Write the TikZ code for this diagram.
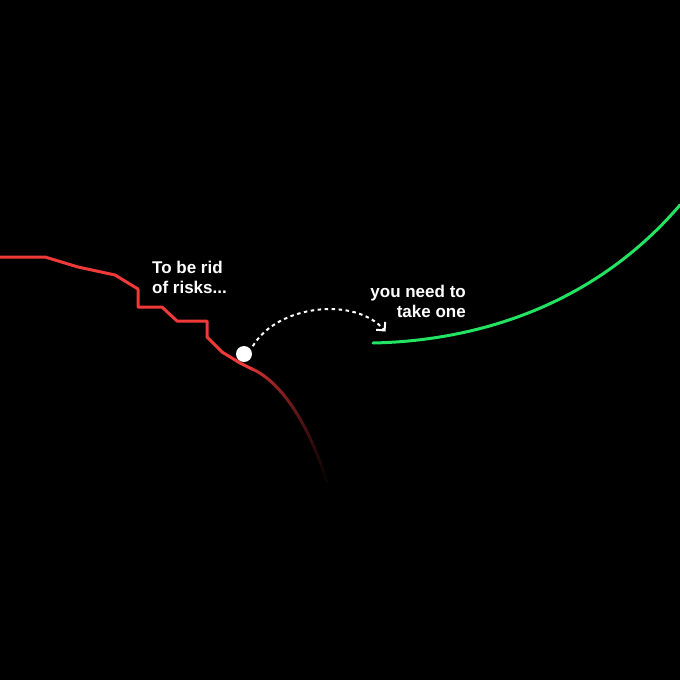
\documentclass[tikz,border=0pt]{standalone}
\usepackage{fontspec}
\setmainfont{Liberation Sans}
\usetikzlibrary{arrows.meta}
\definecolor{riskred}{HTML}{F03A3A}
\definecolor{gogreen}{HTML}{22E362}
\tikzset{
  label/.style={text=white, font=\fontsize{17}{20}\selectfont\bfseries, inner sep=0pt, align=#1},
  redline/.style={draw=riskred, line width=3pt, line join=round, line cap=round},
  greenline/.style={draw=gogreen, line width=3pt, line cap=round},
  jump/.style={draw=white, line width=2pt, dash pattern=on 3.5pt off 3.5pt,
    -{Straight Barb[length=6pt, width=12pt, line width=2pt]}},
}
\begin{document}
\begin{tikzpicture}[x=1pt, y=-1pt]
\fill[black] (0,0) rectangle (680,680);
\useasboundingbox (0,0) rectangle (680,680);

% red descending line
\coordinate (r0) at (0,257);
\coordinate (r1) at (45,257);
\coordinate (r2) at (78,267);
\coordinate (r3) at (115,275);
\coordinate (r4) at (138,289);
\coordinate (r5) at (138,307);
\coordinate (r6) at (162,307);
\coordinate (r7) at (177,321);
\coordinate (r8) at (207,321);
\coordinate (r9) at (207,337);
\coordinate (r10) at (222,352);
\coordinate (r11) at (240,363);
\coordinate (f0) at (252,369);
\coordinate (f1) at (327,482);
\draw[redline] (r0) -- (r1) -- (r2) -- (r3) -- (r4) -- (r5) -- (r6) -- (r7) -- (r8) -- (r9) -- (r10) -- (r11) -- (f0);

% fading fall
\path (f0) .. controls (276,379) and (306,415) .. (f1)
  \foreach \i in {0,...,24}{ coordinate[pos=\i/24] (q\i) };
\foreach \i [evaluate=\i as \j using int(\i+1), evaluate=\i as \p using {int(88-3.6*\i)}] in {0,...,23}
  \draw[line width=3pt, line cap=round, color=riskred!\p!black] (q\i) -- (q\j);

% green rising curve
\coordinate (g0) at (373,343);
\coordinate (g1) at (680,205);
\draw[greenline] (g0) .. controls (470,341) and (590,310) .. (g1);

% ball
\node[circle, fill=white, minimum size=16pt, inner sep=0pt] (ball) at (244,354) {};

% dashed jump
\coordinate (jend) at (385.5,331.5);
\draw[jump] (ball.north east) ++(3,-2) coordinate (jstart)
  .. controls (277,305) and (355,296) .. (jend);

% texts (anchored at the baseline of the last line)
\node[label=left, anchor=base west] (t1) at (152,293) {To be rid\\of risks...};
\node[label=right, anchor=base east] (t2) at (466,317) {you need to\\take one};
\end{tikzpicture}
\end{document}
